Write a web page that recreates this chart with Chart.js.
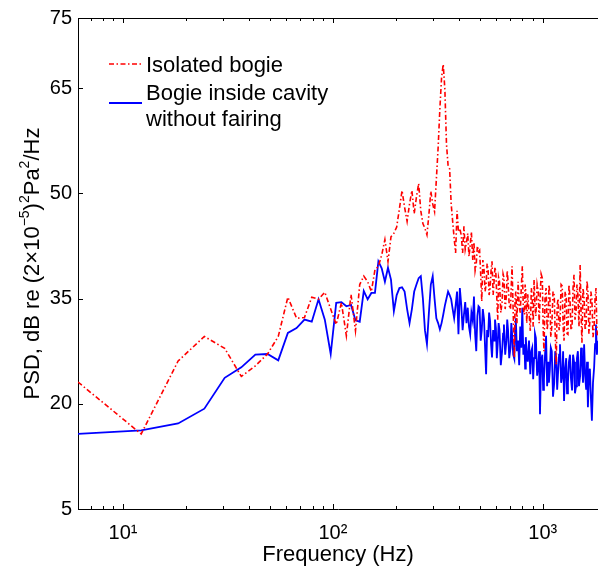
<!DOCTYPE html>
<html>
<head>
<meta charset="utf-8">
<script src="https://cdn.jsdelivr.net/npm/chart.js@4.4.1/dist/chart.umd.min.js"></script>
<style>html,body{margin:0;padding:0;background:#fff}canvas{display:block}</style>
</head>
<body>
<canvas id="c" width="598" height="572"></canvas>
<script>
// Frequencies (Hz)
const freq = [
 6.1,12.2,18.3,24.4,30.5,36.6,42.7,48.8,54.9,61.0,
 67.1,73.2,79.3,85.4,91.5,97.6,103.7,109.8,115.9,122.0,
 128.1,134.2,140.3,146.4,152.5,158.6,164.7,170.8,176.9,183.0,
 189.1,195.2,201.3,207.4,213.5,219.6,225.7,231.8,237.9,244.0,
 250.1,256.2,262.3,268.4,274.5,280.6,286.7,292.8,298.9,305.0,
 311.1,317.2,323.3,329.4,335.5,341.6,347.7,353.8,359.9,366.0,
 372.1,378.2,384.3,390.4,396.5,402.6,
 409,415,421,427,433,439,445,451,457,464,
 470,476,482,488,494,500,506,512,518,525,
 531,537,543,549,555,561,567,573,580,586,
 592,598,604,610,616,622,631,640,647,653,
 662,671,677,683,692,702,708,714,723,732,
 738,744,753,763,772,781,790,799,808,818,
 824,830,839,848,860,872,882,891,900,909,
 918,927,940,952,961,970,982,995,1004,1013,
 1025,1037,1049,1061,1070,1080,1092,1104,1119,1134,
 1146,1159,1171,1183,1196,1208,1223,1238,1250,1263,
 1278,1293,1305,1318,1333,1348,1363,1379,1394,1409,
 1424,1440,1455,1470,1488,1507,1522,1537,1555,1574,
 1592,1610,1625,1641,1659,1677,1695,1714,1735,1757,
 1775,1793,1811,1830
];
// Isolated bogie PSD (dB)
const isolatedBogie = [
 23.1,15.7,26.1,29.6,27.9,23.9,25.4,27.1,29.6,35.2,
 32.2,32.3,35.2,34.9,35.9,33.5,31.3,34.4,29.7,35.6,
 30.4,37.0,38.2,37.4,36.0,39.1,39.6,41.2,43.4,40.3,
 43.8,44.3,45.2,47.8,50.4,48.0,46.0,48.5,50.4,47.1,
 49.5,51.4,47.5,45.7,45.0,44.1,47.0,50.3,48.5,47.4,
 52.0,56.5,62.0,66.5,68.4,64.8,57.0,54.0,53.5,48.5,
 46.0,43.6,41.5,47.5,44.5,45.0,
 44.0,41.5,45.3,42.0,43.0,44.3,41.0,42.6,44.5,40.5,
 43.0,39.0,40.0,42.5,41.7,41.9,38.5,34.6,40.5,39.1,
 36.0,37.0,40.0,39.0,35.5,36.5,39.0,40.3,35.5,37.4,
 39.5,38.5,35.0,32.0,38.0,37.4,33.0,34.5,38.5,38.0,
 33.5,35.5,39.0,37.5,34.0,33.5,37.0,39.6,33.0,26.6,
 35.0,36.0,31.5,37.4,34.0,33.0,36.5,39.6,33.5,32.7,
 37.0,36.0,31.5,35.6,33.0,30.4,36.5,35.0,31.0,37.7,
 34.0,32.5,37.0,36.0,31.5,34.6,38.5,37.9,31.0,27.5,
 35.0,36.5,30.5,32.0,37.0,35.8,29.5,31.0,36.0,35.5,
 30.0,25.6,34.0,35.0,30.5,31.5,37.0,36.8,31.0,29.0,
 36.0,35.2,30.0,29.9,37.0,35.0,30.5,31.0,36.5,38.4,
 32.0,33.0,37.0,35.5,31.0,39.8,33.0,28.7,36.5,35.0,
 30.5,31.5,37.5,36.0,30.0,31.8,36.0,35.0,29.5,31.0,
 35.0,36.5,30.5,29.4
];
// Bogie inside cavity without fairing PSD (dB)
const cavityNoFairing = [
 15.7,16.2,17.2,19.3,23.7,25.2,27.0,27.1,26.2,30.1,
 30.8,32.0,31.7,34.9,32.0,27.1,34.4,34.5,33.9,34.1,
 31.9,31.7,36.1,34.9,35.8,35.8,40.3,39.3,37.4,39.4,
 37.7,33.2,35.5,36.5,36.6,36.0,33.5,31.5,33.5,36.0,
 37.0,37.9,38.2,35.0,30.5,28.5,33.0,37.0,38.2,35.0,
 32.2,31.5,30.6,31.5,32.7,34.0,35.0,36.0,35.5,34.9,
 33.5,32.2,34.0,36.0,29.9,36.5,
 34.0,30.5,32.7,34.5,31.5,33.7,31.0,29.9,33.0,31.8,
 35.3,30.0,27.5,32.5,33.9,33.7,29.0,30.5,33.5,32.0,
 28.0,24.2,30.5,29.5,33.0,31.8,28.5,26.6,30.5,29.0,
 32.0,30.8,26.5,28.5,31.5,30.5,25.5,27.5,30.0,31.3,
 27.0,29.0,32.0,30.6,26.5,28.0,31.5,30.0,27.0,26.4,
 30.5,32.2,27.5,29.0,25.5,31.0,28.0,33.7,27.0,28.5,
 25.0,29.5,27.0,26.0,29.0,24.2,27.5,28.0,23.5,26.5,
 30.0,29.4,24.0,25.5,27.5,18.5,26.0,27.0,22.0,23.5,
 27.0,29.7,22.5,26.0,23.0,24.7,28.0,27.5,21.0,23.0,
 27.5,26.6,22.0,24.5,27.0,28.5,23.0,24.0,27.5,20.4,
 25.0,26.5,21.5,23.0,26.0,27.0,23.5,21.9,27.0,26.0,
 21.5,22.5,26.5,27.5,22.5,24.0,28.0,26.5,23.0,28.5,
 24.0,22.0,26.0,19.5,24.0,25.0,21.0,17.6,23.0,25.2,
 28.5,31.3,27.0,29.0
];
const yTicks = [5, 20, 35, 50, 65, 75];
const xTicks = [10, 100, 1000];
const xTickLabels = ['10\u00B9', '10\u00B2', '10\u00B3'];
const seriesNames = ['Isolated bogie', ['Bogie inside cavity', 'without fairing']];

const RED = '#ff0000', BLUE = '#0000ff';
const FONT = '"Liberation Sans", Arial, Helvetica, sans-serif';
const DASHDOT = [5, 2.5, 1.5, 2.5];

const axesPlugin = {
  id: 'axesDeco',
  afterDraw(chart) {
    const ctx = chart.ctx, ca = chart.chartArea;
    const xs = chart.scales.x, ys = chart.scales.y;
    ctx.save();
    ctx.strokeStyle = '#000';
    ctx.lineWidth = 1;
    ctx.beginPath();
    ctx.moveTo(ca.left, Math.round(ca.top) + 0.5);
    ctx.lineTo(ca.right, Math.round(ca.top) + 0.5);
    ctx.stroke();
    const decades = [1, 10, 100, 1000];
    ctx.beginPath();
    decades.forEach(d => {
      for (let m = 1; m <= 9; m++) {
        const v = m * d;
        if (v < xs.min || v > xs.max) continue;
        const px = Math.round(xs.getPixelForValue(v)) + 0.5;
        const len = (m === 1) ? 5 : 3;
        ctx.moveTo(px, ca.bottom); ctx.lineTo(px, ca.bottom - len);
        ctx.moveTo(px, ca.top); ctx.lineTo(px, ca.top + len);
      }
    });
    yTicks.forEach(v => {
      const py = Math.round(ys.getPixelForValue(v)) + 0.5;
      ctx.moveTo(ca.left, py); ctx.lineTo(ca.left + 5, py);
    });
    ctx.stroke();

    const segs = [
      ['PSD, dB re (2\u00D710', false], ['\u22125', true], [')', false],
      ['2', true], ['Pa', false], ['2', true], ['/Hz', false]
    ];
    const fN = '22px ' + FONT, fS = '14px ' + FONT;
    let total = 0;
    segs.forEach(s => { ctx.font = s[1] ? fS : fN; total += ctx.measureText(s[0]).width; });
    const cy = (ca.top + ca.bottom) / 2;
    ctx.translate(39, cy);
    ctx.rotate(-Math.PI / 2);
    ctx.fillStyle = '#000';
    ctx.textBaseline = 'alphabetic';
    ctx.textAlign = 'left';
    let x = -total / 2;
    segs.forEach(s => {
      ctx.font = s[1] ? fS : fN;
      ctx.fillText(s[0], x, s[1] ? -10 : 0);
      x += ctx.measureText(s[0]).width;
    });
    ctx.restore();

    ctx.save();
    const lx0 = ca.left + 31, lx1 = ca.left + 64, tx = ca.left + 68;
    ctx.lineWidth = 1.6;
    ctx.strokeStyle = RED;
    ctx.setLineDash(DASHDOT);
    ctx.beginPath(); ctx.moveTo(lx0, ca.top + 46); ctx.lineTo(lx1, ca.top + 46); ctx.stroke();
    ctx.setLineDash([]);
    ctx.lineWidth = 1.8;
    ctx.strokeStyle = BLUE;
    ctx.beginPath(); ctx.moveTo(lx0, ca.top + 85); ctx.lineTo(lx1, ca.top + 85); ctx.stroke();
    ctx.fillStyle = '#000';
    ctx.font = '22px ' + FONT;
    ctx.textBaseline = 'alphabetic';
    ctx.fillText(seriesNames[0], tx, ca.top + 54);
    ctx.fillText(seriesNames[1][0], tx, ca.top + 82);
    ctx.fillText(seriesNames[1][1], tx, ca.top + 108);
    ctx.restore();
  }
};

new Chart(document.getElementById('c'), {
  type: 'line',
  data: {
    datasets: [
      {
        label: seriesNames[0],
        data: freq.map((f, i) => ({ x: f, y: isolatedBogie[i] })),
        borderColor: RED, borderWidth: 1.6, borderDash: DASHDOT,
        pointRadius: 0, tension: 0, fill: false
      },
      {
        label: seriesNames[1].join(' '),
        data: freq.map((f, i) => ({ x: f, y: cavityNoFairing[i] })),
        borderColor: BLUE, borderWidth: 1.8,
        pointRadius: 0, tension: 0, fill: false
      }
    ]
  },
  options: {
    responsive: false,
    animation: false,
    devicePixelRatio: 1,
    layout: { padding: { left: 0, right: 0, top: 15, bottom: 0 } },
    plugins: { legend: { display: false }, tooltip: { enabled: false } },
    scales: {
      x: {
        type: 'logarithmic', min: 6.1, max: 1833, position: 'bottom',
        grid: { display: false, drawTicks: false },
        border: { display: true, color: '#000', width: 1 },
        afterBuildTicks: s => { s.ticks = xTicks.map(v => ({ value: v })); },
        afterFit: s => { s.height = 63; },
        ticks: {
          autoSkip: false, maxRotation: 0, padding: 12, color: '#000',
          font: { family: FONT, size: 20 },
          callback: v => { const i = xTicks.indexOf(v); return i >= 0 ? xTickLabels[i] : ''; }
        },
        title: {
          display: true, text: 'Frequency (Hz)', color: '#000',
          font: { family: FONT, size: 22 }, padding: { top: 0, bottom: 4 }
        }
      },
      y: {
        type: 'linear', min: 5, max: 75,
        grid: { display: false, drawTicks: false },
        border: { display: true, color: '#000', width: 1 },
        afterBuildTicks: s => { s.ticks = yTicks.map(v => ({ value: v })); },
        afterFit: s => { s.width = 78; },
        ticks: {
          padding: 6, color: '#000', font: { family: FONT, size: 20 },
          callback: v => String(v)
        }
      }
    }
  },
  plugins: [axesPlugin]
});
</script>
</body>
</html>
